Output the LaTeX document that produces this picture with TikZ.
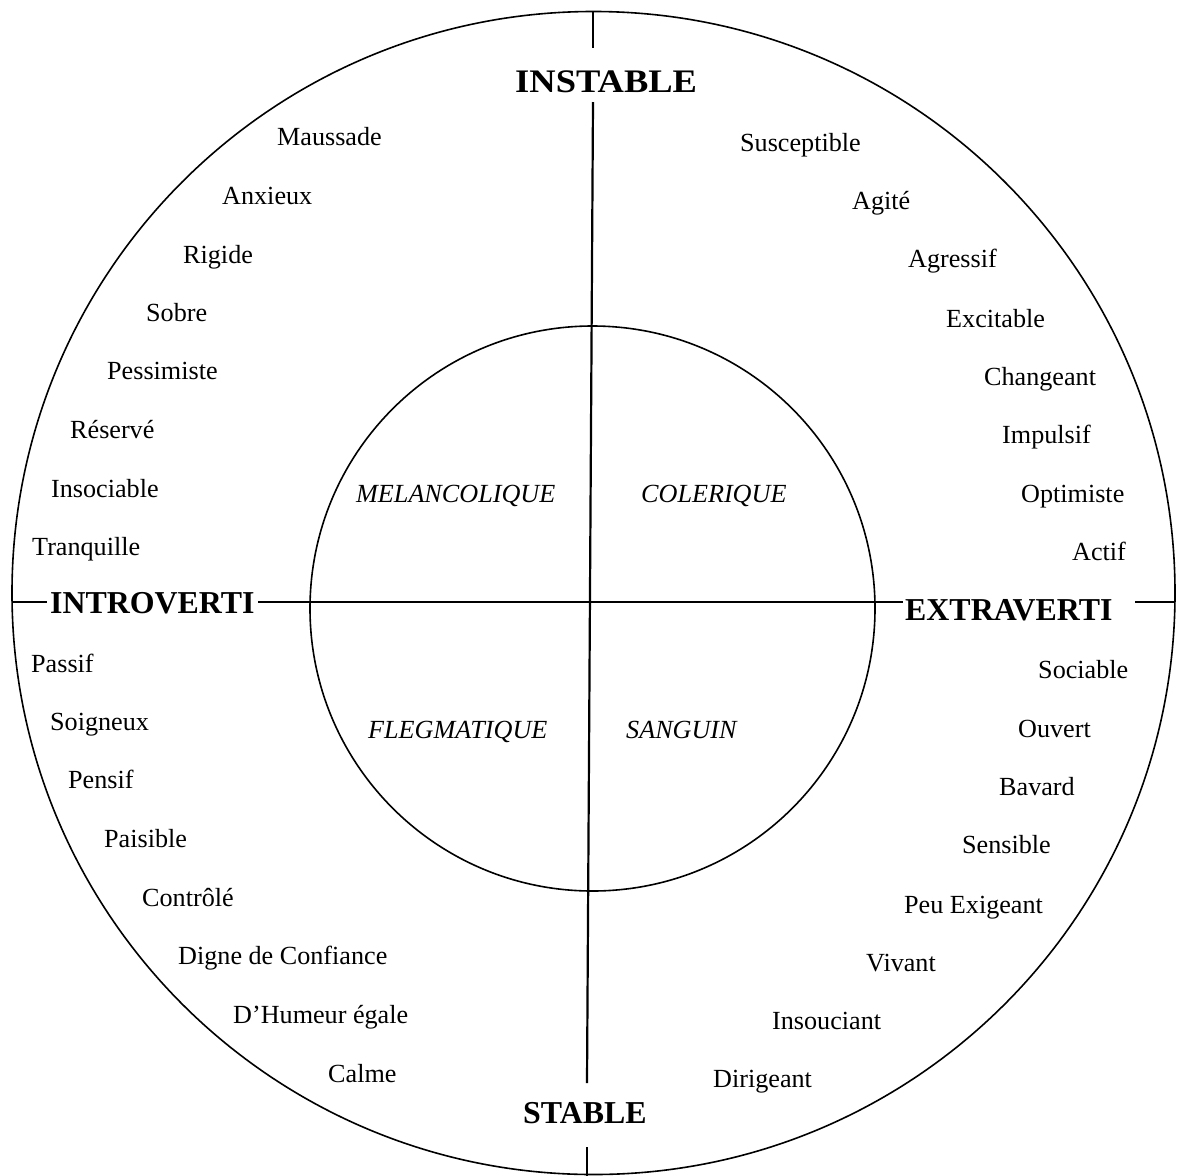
\documentclass[tikz,border=0pt]{standalone}
\usepackage{fontspec}
\setmainfont{Liberation Serif}
\begin{document}
\begin{tikzpicture}[x=1bp,y=-1bp,
  lbl/.style={anchor=base west,inner sep=0pt,font=\fontsize{26.25}{30}\selectfont},
  typ/.style={anchor=base west,inner sep=0pt,font=\fontsize{26.25}{30}\selectfont\itshape},
  axislbl/.style={anchor=base west,inner sep=0pt,font=\fontsize{32}{36}\selectfont\bfseries},
  ring/.style={draw,circle,inner sep=0pt,line width=1.6bp},
  axis/.style={line width=2.2bp}]
\useasboundingbox (0,0) rectangle (1177,1176);
\fill[white] (0,0) rectangle (1177,1176);
% circles
\node[ring,minimum size=1163bp] (outer) at (593.5,593) {};
\node[ring,minimum size=565bp] (inner) at (592.5,608.5) {};
% axis labels
\node[axislbl,font=\fontsize{33}{36}\selectfont\bfseries,xscale=1.11] (instable) at (515,92) {INSTABLE};
\node[axislbl] (stable) at (523,1123) {STABLE};
\node[axislbl] (introverti) at (50,613) {INTROVERTI};
\node[axislbl] (extraverti) at (905,620) {EXTRAVERTI};
% axis line end points
\coordinate (vt0) at (593,11);
\coordinate (vt1) at (593,48);
\coordinate (vm0) at (593,102);
\coordinate (vm1) at (587,1083);
\coordinate (vb0) at (587,1147);
\coordinate (vb1) at (587,1176);
\coordinate (hl0) at (12,602);
\coordinate (hl1) at (47,602);
\coordinate (hm0) at (258,602);
\coordinate (hm1) at (903,602);
\coordinate (hr0) at (1135,602);
\coordinate (hr1) at (1175,602);
\draw[axis] (vt0) -- (vt1);
\draw[axis] (vm0) -- (vm1);
\draw[axis] (vb0) -- (vb1);
\draw[axis] (hl0) -- (hl1);
\draw[axis] (hm0) -- (hm1);
\draw[axis] (hr0) -- (hr1);
% temperaments
\node[typ] (melan) at (356,502) {MELANCOLIQUE};
\node[typ] (coler) at (641,502) {COLERIQUE};
\node[typ] (flegm) at (368,738) {FLEGMATIQUE};
\node[typ] (sang) at (626,738) {SANGUIN};
% top left
\node[lbl] (t1) at (277,145) {Maussade};
\node[lbl] (t2) at (222,204) {Anxieux};
\node[lbl] (t3) at (183,263) {Rigide};
\node[lbl] (t4) at (146,321) {Sobre};
\node[lbl] (t5) at (107,379) {Pessimiste};
\node[lbl] (t6) at (70,438) {Réservé};
\node[lbl] (t7) at (51,497) {Insociable};
\node[lbl] (t8) at (32,555) {Tranquille};
% top right
\node[lbl] (r1) at (740,151) {Susceptible};
\node[lbl] (r2) at (852,209) {Agité};
\node[lbl] (r3) at (908,267) {Agressif};
\node[lbl] (r4) at (946,327) {Excitable};
\node[lbl] (r5) at (984,385) {Changeant};
\node[lbl] (r6) at (1002,443) {Impulsif};
\node[lbl] (r7) at (1021,502) {Optimiste};
\node[lbl] (r8) at (1072,560) {Actif};
% bottom left
\node[lbl] (b1) at (31,672) {Passif};
\node[lbl] (b2) at (50,730) {Soigneux};
\node[lbl] (b3) at (68,788) {Pensif};
\node[lbl] (b4) at (104,847) {Paisible};
\node[lbl] (b5) at (142,906) {Contrôlé};
\node[lbl] (b6) at (178,964) {Digne de Confiance};
\node[lbl] (b7) at (233,1023) {D’Humeur égale};
\node[lbl] (b8) at (328,1082) {Calme};
% bottom right
\node[lbl] (s1) at (1038,678) {Sociable};
\node[lbl] (s2) at (1018,737) {Ouvert};
\node[lbl] (s3) at (999,795) {Bavard};
\node[lbl] (s4) at (962,853) {Sensible};
\node[lbl] (s5) at (904,913) {Peu Exigeant};
\node[lbl] (s6) at (866,971) {Vivant};
\node[lbl] (s7) at (772,1029) {Insouciant};
\node[lbl] (s8) at (713,1087) {Dirigeant};
\end{tikzpicture}
\end{document}
